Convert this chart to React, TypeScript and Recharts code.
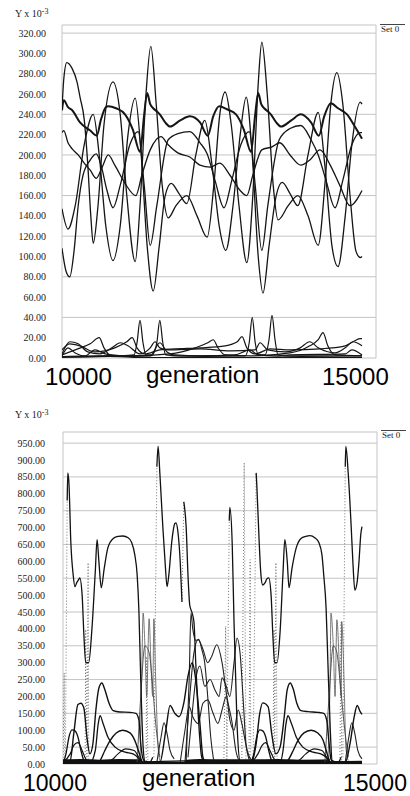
import { LineChart, Line, XAxis, YAxis, CartesianGrid } from 'recharts';

type Pt = [number, number | null];

// axis ticks
const genTicks = [10000, 11000, 12000, 13000, 14000, 15000];
const topTicks = [0, 20, 40, 60, 80, 100, 120, 140, 160, 180, 200, 220, 240, 260, 280, 300, 320];
const botTicks = [0, 50, 100, 150, 200, 250, 300, 350, 400, 450, 500, 550, 600, 650, 700, 750, 800, 850, 900, 950];

// ---- top panel, upper band (values x 10^-3) ----
const topA: Pt[] = [[10000,244],[10030,254],[10100,247],[10170,244],[10300,232],[10470,224],[10580,219],[10650,235],[10730,247],[10770,248],[10900,246],[11050,240],[11180,225],[11300,203],[11370,240],[11420,261],[11470,250],[11520,246],[11580,243],[11630,240],[11720,232],[11800,228],[11970,234],[12130,238],[12300,232],[12430,219],[12520,238],[12620,248],[12750,245],[12900,240],[13030,225],[13150,203],[13220,240],[13270,261],[13320,250],[13370,246],[13430,243],[13480,240],[13570,232],[13650,228],[13820,234],[13980,240],[14150,232],[14280,219],[14370,238],[14480,251],[14600,246],[14750,240],[14880,228],[15000,216]];
const topB: Pt[] = [[10000,147],[10100,127],[10220,150],[10370,210],[10520,240],[10620,200],[10730,130],[10850,96],[10970,130],[11100,220],[11220,256],[11320,200],[11420,110],[11520,66],[11620,110],[11720,160],[11820,172],[11950,162],[12080,152],[12230,200],[12380,234],[12500,190],[12620,130],[12730,106],[12850,150],[12970,220],[13070,257],[13170,200],[13270,100],[13350,64],[13450,110],[13570,160],[13670,173],[13800,162],[13930,150],[14100,200],[14270,242],[14380,190],[14500,110],[14600,90],[14720,140],[14830,210],[14970,252],[15000,250]];
const topC: Pt[] = [[10000,245],[10030,275],[10080,291],[10170,285],[10250,272],[10300,257],[10370,235],[10430,190],[10480,140],[10520,113],[10600,150],[10700,230],[10850,272],[10970,240],[11080,160],[11220,95],[11300,150],[11400,260],[11480,307],[11570,250],[11670,170],[11770,138],[11900,150],[12080,160],[12250,140],[12420,119],[12530,170],[12630,240],[12720,262],[12820,230],[12950,150],[13080,94],[13180,160],[13270,270],[13330,311],[13420,260],[13520,170],[13600,136],[13770,150],[13930,160],[14100,140],[14270,111],[14380,170],[14480,250],[14580,281],[14680,250],[14800,160],[14900,105],[14970,99],[15000,100]];
const topD: Pt[] = [[10000,222],[10030,224],[10100,212],[10170,206],[10270,200],[10370,192],[10470,185],[10570,177],[10670,188],[10770,200],[10880,190],[11050,172],[11230,160],[11330,180],[11470,205],[11650,218],[11770,210],[11930,202],[12130,198],[12300,190],[12470,188],[12630,192],[12800,180],[12970,165],[13080,160],[13180,180],[13330,205],[13500,208],[13630,212],[13800,200],[13980,190],[14130,195],[14300,205],[14470,190],[14630,170],[14800,150],[15000,165]];
const topE: Pt[] = [[10000,108],[10070,85],[10130,80],[10200,105],[10270,150],[10350,180],[10470,195],[10570,201],[10650,190],[10750,165],[10850,148],[10970,170],[11130,210],[11270,223],[11370,170],[11470,111],[11580,150],[11770,215],[11930,221],[12130,223],[12300,212],[12420,201],[12550,175],[12700,148],[12830,175],[12980,210],[13120,223],[13220,170],[13330,106],[13430,150],[13620,215],[13800,226],[13980,229],[14150,215],[14270,200],[14400,175],[14550,148],[14680,175],[14830,210],[14970,222],[15000,222]];

// ---- top panel, lower band ----
const topS1: Pt[] = [[10000,1],[10970,2],[11200,3],[11250,15],[11300,37],[11350,15],[11400,3],[11500,3],[11580,15],[11630,37],[11680,15],[11730,3],[11970,2],[13050,2],[13120,15],[13170,40],[13220,15],[13270,3],[13380,3],[13450,18],[13500,42],[13550,18],[13600,3],[13800,2],[15000,2]];
const topS2: Pt[] = [[10000,3],[10220,8],[10470,14],[10620,20],[10700,10],[10800,3],[11130,2],[11800,4],[12220,10],[12430,15],[12520,18],[12600,10],[12720,3],[13130,2],[13800,5],[14130,12],[14270,18],[14350,25],[14430,12],[14550,3],[15000,2]];
const topS3: Pt[] = [[10000,8],[10130,14],[10300,12],[10550,6],[10880,10],[11080,16],[11170,20],[11250,10],[11380,4],[11630,8],[11880,9],[12300,10],[12720,12],[12920,16],[13000,21],[13080,10],[13220,4],[13470,9],[13800,8],[14300,9],[14720,12],[14880,17],[14970,19],[15000,19]];
const topS4: Pt[] = [[10000,4],[10130,16],[10270,14],[10430,6],[10630,4],[10830,10],[10970,15],[11100,12],[11300,4],[11470,10],[11550,16],[11630,10],[11770,8],[12300,9],[12800,7],[13220,8],[13300,15],[13430,8],[13720,6],[13970,10],[14130,16],[14270,10],[14550,5],[14720,10],[14850,16],[15000,12]];
const topS5: Pt[] = [[10000,2],[10100,10],[10220,5],[10380,2],[10550,8],[10720,4],[10970,2],[11470,2],[11630,15],[11750,6],[11880,3],[12300,2],[12880,3],[13130,8],[13270,3],[13550,2],[13800,3],[14720,4],[14830,8],[15000,3]];
const topS6: Pt[] = [[10000,1],[10800,2],[11600,0],[12400,1],[13200,0],[14000,1],[15000,0]];

// ---- bottom panel ----
const botMain: Pt[] = [[10070,780],[10080,862],[10100,830],[10130,660],[10170,560],[10200,525],[10230,537],[10270,548],[10280,551],[10320,500],[10350,380],[10380,300],[10430,300],[10480,390],[10540,570],[10570,664],[10600,600],[10640,522],[10690,580],[10750,640],[10840,668],[10920,674],[11000,675],[11090,670],[11150,655],[11200,620],[11240,560],[11270,450],[11300,250],[11340,50],[11370,8],[11450,5],[11500,20],[11540,null],[11570,880],[11590,940],[11620,860],[11670,700],[11710,590],[11740,525],[11770,560],[11820,660],[11870,712],[11890,714],[11920,690],[11960,600],[11990,480],[12005,null],[12020,776],[12060,700],[12090,560],[12120,470],[12160,447],[12190,420],[12220,300],[12270,120],[12320,20],[12370,5],[12540,5],[12660,10],[12730,null],[12780,720],[12790,760],[12830,650],[12860,420],[12910,120],[12960,10],[13130,5],[13180,20],[13200,null],[13230,862],[13240,830],[13280,660],[13310,560],[13340,530],[13380,537],[13410,548],[13440,551],[13480,500],[13510,380],[13540,300],[13580,300],[13630,390],[13680,570],[13710,664],[13750,600],[13780,522],[13830,580],[13900,640],[13980,668],[14060,674],[14130,676],[14210,670],[14280,655],[14330,620],[14360,560],[14400,460],[14430,300],[14470,100],[14500,10],[14600,5],[14650,20],[14680,null],[14720,880],[14730,940],[14770,860],[14820,700],[14850,590],[14880,515],[14920,540],[14950,600],[14980,680],[15000,703]];
const botDots: Pt[] = [[10000,0],[10020,270],[10030,0],[10035,null],[10040,10],[10070,780],[10200,null],[10370,0],[10380,398],[10400,0],[10420,596],[10430,0],[10700,null],[11390,0],[11400,318],[11420,0],[11470,null],[11520,20],[11570,880],[11800,null],[11990,480],[12020,776],[12300,null],[12690,0],[12720,408],[12740,10],[12780,720],[12900,null],[12990,0],[13030,892],[13060,0],[13090,null],[13110,0],[13130,605],[13140,0],[13160,null],[13180,20],[13230,862],[13400,null],[13510,0],[13530,398],[13540,0],[13560,596],[13580,0],[14000,null],[14630,0],[14650,420],[14660,0],[14670,null],[14680,20],[14720,880]];
const botPlateau: Pt[] = [[10000,3],[10120,10],[10180,90],[10250,176],[10300,180],[10350,165],[10400,80],[10450,30],[10500,60],[10550,160],[10600,225],[10650,240],[10700,220],[10770,180],[10840,158],[10950,154],[11120,153],[11220,150],[11270,130],[11300,60],[11340,15],[11390,5],[11620,5],[11720,100],[11790,173],[11870,150],[11940,140],[12020,180],[12090,260],[12160,300],[12220,250],[12290,120],[12340,20],[12390,5],[12960,5],[13160,8],[13230,60],[13290,150],[13340,181],[13430,170],[13490,90],[13560,30],[13630,50],[13700,140],[13750,220],[13800,240],[13850,222],[13910,180],[13980,158],[14100,155],[14260,153],[14360,150],[14410,130],[14450,60],[14480,15],[14530,5],[14720,5],[14800,60],[14870,140],[14920,173],[14970,155],[15000,147]];
const botArch: Pt[] = [[10000,1],[10550,0],[10620,10],[10700,40],[10790,70],[10890,92],[11000,100],[11120,92],[11200,70],[11270,35],[11320,8],[11370,0],[12290,2],[13700,0],[13760,10],[13850,40],[13930,70],[14030,92],[14150,100],[14260,92],[14350,70],[14410,35],[14460,8],[14510,0],[15000,1]];
const botHumpA: Pt[] = [[10000,2],[10450,3],[10540,40],[10590,120],[10620,143],[10670,120],[10750,80],[10870,50],[11040,35],[11170,30],[11250,20],[11320,5],[11390,2],[13130,2],[13630,3],[13680,40],[13730,120],[13760,143],[13820,120],[13900,80],[14010,50],[14180,35],[14310,30],[14400,20],[14460,5],[14530,2],[15000,2]];
const botHumpB: Pt[] = [[10000,2],[10050,30],[10100,80],[10150,101],[10200,98],[10250,80],[10300,40],[10350,10],[10400,2],[13130,2],[13190,30],[13240,80],[13290,101],[13340,98],[13390,80],[13440,40],[13490,10],[13540,2],[15000,2]];
const botHumpC: Pt[] = [[10000,5],[10120,30],[10180,55],[10250,63],[10320,40],[10380,15],[10450,5],[10790,10],[10920,30],[11050,45],[11190,40],[11270,20],[11340,5],[13130,5],[13260,30],[13330,55],[13390,63],[13460,40],[13530,15],[13590,5],[13930,10],[14060,30],[14200,45],[14330,40],[14410,20],[14480,5],[15000,5]];
const botBand: Pt[] = [[10000,8],[10300,9],[10620,7],[10950,9],[11300,8],[11400,null],[12040,6],[12290,9],[12700,8],[13130,8],[13600,9],[13960,7],[14460,8],[14520,null]];
const botFloor: Pt[] = [[10000,5],[11340,6],[12000,9],[13000,4],[14460,6],[15000,8]];
const botMidA: Pt[] = [[12040,5],[12120,200],[12190,330],[12260,368],[12340,340],[12420,300],[12490,320],[12570,353],[12660,300],[12740,200],[12830,120],[12890,40],[12960,5]];
const botMidB: Pt[] = [[12090,20],[12160,150],[12220,250],[12290,290],[12370,230],[12460,250],[12540,220],[12610,200],[12660,255],[12730,230],[12790,200],[12860,300],[12910,373],[12960,330],[13010,200],[13060,60],[13130,5]];
const botMidC: Pt[] = [[11960,5],[12040,100],[12110,170],[12170,140],[12260,120],[12340,180],[12420,190],[12510,150],[12590,120],[12660,160],[12730,200],[12790,131],[12860,100],[12930,160],[12990,120],[13080,40],[13160,5]];
const botMidD: Pt[] = [[12060,10],[12110,250],[12140,447],[12170,400],[12220,366],[12270,369],[12320,340],[12370,300],[12420,200],[12470,80],[12520,10]];
const botSpikes: Pt[] = [[11290,10],[11320,300],[11340,447],[11370,350],[11400,200],[11440,430],[11470,300],[11500,200],[11520,430],[11550,250],[11590,50],[11620,10],[12000,null],[14430,10],[14470,300],[14480,447],[14520,350],[14550,200],[14580,427],[14620,300],[14650,200],[14660,422],[14700,250],[14730,50],[14770,10]];
const botKnee: Pt[] = [[11240,5],[11300,200],[11370,350],[11440,330],[11490,250],[11550,120],[11620,20],[12000,null],[14380,5],[14450,200],[14520,350],[14580,330],[14630,250],[14700,120],[14770,20]];
const botTail: Pt[] = [[11570,5],[11640,80],[11690,122],[11740,90],[11790,40],[11860,15],[12000,null],[14720,5],[14780,80],[14830,122],[14880,90],[14930,40],[15000,15]];

const rows = (pts: Pt[]) => pts.map(([g, v]) => ({ g, v }));

const topSeries = [
  { d: topA, w: 2 }, { d: topB, w: 1.3 }, { d: topC, w: 1.3 }, { d: topD, w: 1.3 }, { d: topE, w: 1.3 },
  { d: topS1, w: 1.2 }, { d: topS2, w: 1.2 }, { d: topS3, w: 1.2 }, { d: topS4, w: 1.2 }, { d: topS5, w: 1.2 }, { d: topS6, w: 2 },
];

const botSeries = [
  { d: botBand, w: 4, c: '#111' }, { d: botFloor, w: 1.2, c: '#111' },
  { d: botMidA, w: 1.1, c: '#222' }, { d: botMidB, w: 1.1, c: '#222' }, { d: botMidC, w: 1.1, c: '#222' }, { d: botMidD, w: 1.1, c: '#222' },
  { d: botSpikes, w: 0.8, c: '#555' }, { d: botKnee, w: 0.9, c: '#444' }, { d: botTail, w: 1.1, c: '#222' },
  { d: botPlateau, w: 1.4, c: '#111' }, { d: botArch, w: 1.4, c: '#111' }, { d: botHumpA, w: 1.3, c: '#111' },
  { d: botHumpB, w: 1.3, c: '#111' }, { d: botHumpC, w: 1.2, c: '#111' }, { d: botMain, w: 1.3, c: '#111' },
];

const tickStyle = { fontFamily: '"Liberation Serif", serif', fontSize: 10, fill: '#222' };
const axisFont = '"Liberation Sans", Arial, sans-serif';
const serif = '"Liberation Serif", serif';

export default function App() {
  return (
    <div style={{ position: 'absolute', left: 0, top: 0, width: 410, height: 796, background: '#fff' }}>
      <div style={{ position: 'absolute', left: 0, top: 0 }}>
        <LineChart width={410} height={370} margin={{ top: 25, right: 34, left: 0, bottom: 12 }}>
          <CartesianGrid stroke="#c4c4c4" />
          <XAxis type="number" dataKey="g" domain={[10000, 15233]} ticks={genTicks} allowDataOverflow
            tick={false} axisLine={false} tickLine={false} height={0} />
          <YAxis type="number" domain={[0, 328]} ticks={topTicks} allowDataOverflow width={62}
            axisLine={false} tickLine={false} tickSize={0} tickMargin={16} tick={tickStyle}
            tickFormatter={(v: number) => v.toFixed(2)} />
          {topSeries.map((s, i) => (
            <Line key={i} data={rows(s.d)} dataKey="v" type="monotone" stroke="#151515" strokeWidth={s.w}
              dot={false} activeDot={false} isAnimationActive={false} />
          ))}
        </LineChart>
      </div>
      <div style={{ position: 'absolute', left: 0, top: 400 }}>
        <LineChart width={410} height={376} margin={{ top: 32, right: 33, left: 0, bottom: 12 }}>
          <CartesianGrid stroke="#c4c4c4" />
          <XAxis type="number" dataKey="g" domain={[10000, 15251]} ticks={genTicks} allowDataOverflow
            tick={false} axisLine={false} tickLine={false} height={0} />
          <YAxis type="number" domain={[0, 983]} ticks={botTicks} allowDataOverflow width={63}
            axisLine={false} tickLine={false} tickSize={0} tickMargin={18} tick={tickStyle}
            tickFormatter={(v: number) => v.toFixed(2)} />
          <Line data={rows(botDots)} dataKey="v" type="linear" stroke="#777" strokeWidth={1}
            strokeDasharray="1 2" dot={false} activeDot={false} isAnimationActive={false} />
          {botSeries.map((s, i) => (
            <Line key={i} data={rows(s.d)} dataKey="v" type="monotone" stroke={s.c} strokeWidth={s.w}
              dot={false} activeDot={false} isAnimationActive={false} />
          ))}
        </LineChart>
      </div>
      <svg width={410} height={796} style={{ position: 'absolute', left: 0, top: 0, pointerEvents: 'none' }}>
        <text x={15} y={17} fontFamily={serif} fontSize={10} fill="#222">
          Y x 10<tspan dy={-3} fontSize={8}>-3</tspan>
        </text>
        <line x1={380} x2={405} y1={24.5} y2={24.5} stroke="#444" />
        <text x={381} y={32} fontFamily={serif} fontSize={9} fill="#222">Set 0</text>
        <text x={45} y={385} fontFamily={axisFont} fontSize={24} fill="#000">10000</text>
        <text x={146} y={383} fontFamily={axisFont} fontSize={24} fill="#000">generation</text>
        <text x={322} y={385} fontFamily={axisFont} fontSize={24} fill="#000">15000</text>

        <text x={15} y={418} fontFamily={serif} fontSize={10} fill="#222">
          Y x 10<tspan dy={-3} fontSize={8}>-3</tspan>
        </text>
        <line x1={381} x2={406} y1={430.5} y2={430.5} stroke="#444" />
        <text x={382} y={438} fontFamily={serif} fontSize={9} fill="#222">Set 0</text>
        <text x={23} y={791} fontFamily={axisFont} fontSize={23} fill="#000">10000</text>
        <text x={142} y={786} fontFamily={axisFont} fontSize={24} fill="#000">generation</text>
        <text x={343} y={791} fontFamily={axisFont} fontSize={23} fill="#000">15000</text>
      </svg>
    </div>
  );
}
